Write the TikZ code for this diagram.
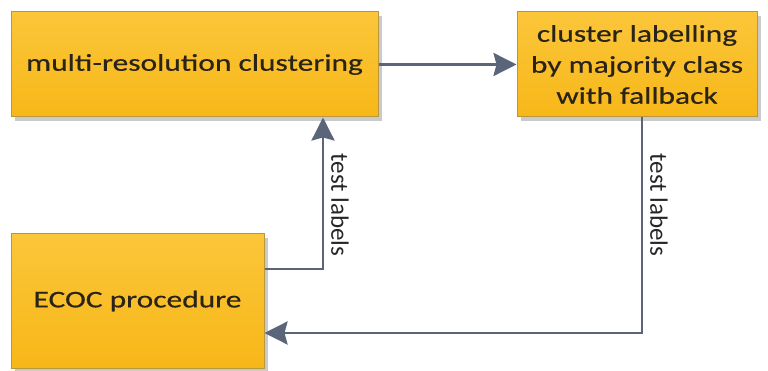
\documentclass[tikz,border=0pt]{standalone}
\usepackage{fontspec}
\setmainfont{Carlito}
\newfontfamily\boxfont{Carlito}[FakeStretch=1.31,FakeBold=0.5]
\usetikzlibrary{arrows.meta,shadows}
\definecolor{boxfill}{HTML}{F7B718}
\definecolor{boxtop}{HTML}{FBC63A}
\definecolor{boxedge}{HTML}{B8973E}
\definecolor{linkcol}{HTML}{5B6579}
\definecolor{txt}{HTML}{2A2418}
\begin{document}
\begin{tikzpicture}[x=1pt,y=-1pt,
  procbox/.style={draw=boxedge,line width=1pt,top color=boxtop,bottom color=boxfill,
    drop shadow={shadow xshift=4pt,shadow yshift=-4pt,fill=black!35,opacity=0.6},
    text=txt,font=\boxfont\fontsize{24}{31}\selectfont,align=center,inner sep=0pt},
  link/.style={draw=linkcol,line width=2.8pt,-{Stealth[length=23pt,width=23pt,inset=3pt]}},
  tag/.style={font=\fontsize{25}{30}\selectfont,text=black!85,rotate=-90}]
\useasboundingbox (0,0) rectangle (768,371);
\node[procbox,minimum width=367pt,minimum height=105pt] (mrc) at (194.5,64.5) {multi-resolution clustering};
\node[procbox,minimum width=240pt,minimum height=105pt] (lab) at (637,64.5) {cluster labelling\\by majority class\\with fallback};
\node[procbox,minimum width=253pt,minimum height=134pt] (ecoc) at (137.5,301) {ECOC procedure};
\coordinate (c1) at (323,269);
\coordinate (c2) at (642,333);
\draw[link] (mrc.east) -- (lab.west);
\draw[link] (ecoc.east |- c1) -- (c1) -- (c1 |- mrc.south);
\draw[link] (c2 |- lab.south) -- (c2) -- (ecoc.east |- c2);
\node[tag] (t1) at (340,205) {test labels};
\node[tag] (t2) at (659,205) {test labels};
\end{tikzpicture}
\end{document}
